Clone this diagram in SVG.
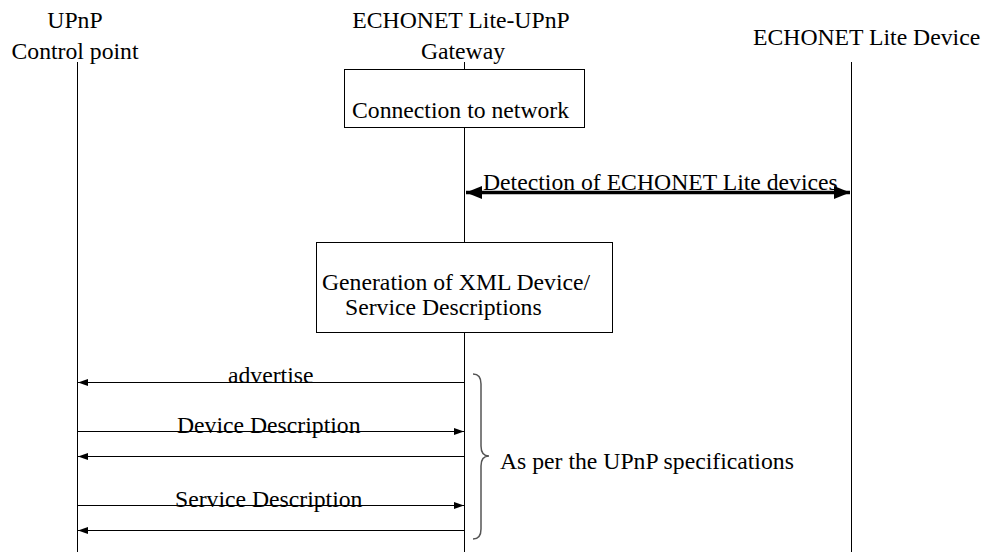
<svg xmlns="http://www.w3.org/2000/svg" width="987" height="552" viewBox="0 0 987 552">
<style>
text{font-family:"Times New Roman","Liberation Serif","DejaVu Serif",serif;font-size:23.7px;fill:#000}
.life{stroke:#000;stroke-width:1;fill:none}
.box{fill:#fff;stroke:#000;stroke-width:1}
.msg{stroke:#000;stroke-width:1;fill:none}
.mid{text-anchor:middle}
</style>
<defs>
<marker id="ah" markerUnits="userSpaceOnUse" markerWidth="11" markerHeight="8" refX="10" refY="3.5" orient="auto-start-reverse"><path d="M0,0 L10,3.5 L0,7 z" fill="#000"/></marker>
<marker id="ahb" markerUnits="userSpaceOnUse" markerWidth="17" markerHeight="14" refX="16" refY="6.5" orient="auto-start-reverse"><path d="M0,0 L16,6.5 L0,13 z" fill="#000"/></marker>
</defs>
<g id="lifelines">
<line class="life" x1="77.5" y1="62" x2="77.5" y2="552"/>
<line class="life" x1="464.5" y1="62" x2="464.5" y2="552"/>
<line class="life" x1="851.5" y1="62" x2="851.5" y2="552"/>
</g>
<g id="cp">
<text class="mid" x="75" y="28">UPnP</text>
<text class="mid" x="75" y="59">Control point</text>
</g>
<g id="gw">
<text class="mid" x="461" y="28">ECHONET Lite-UPnP</text>
<text class="mid" x="463" y="59">Gateway</text>
</g>
<g id="dev">
<text x="753" y="45">ECHONET Lite Device</text>
</g>
<g id="conn">
<rect class="box" x="344.5" y="69.5" width="240" height="58"/>
<text x="352" y="118">Connection to network</text>
</g>
<g id="gen">
<rect class="box" x="316.5" y="242.5" width="296" height="90"/>
<text x="322" y="290">Generation of XML Device/</text>
<text x="345" y="314.5">Service Descriptions</text>
</g>
<g id="connectors">
<line x1="466" y1="192.5" x2="850" y2="192.5" stroke="#000" stroke-width="3.5" marker-start="url(#ahb)" marker-end="url(#ahb)"/>
<line class="msg" x1="464" y1="382.5" x2="78" y2="382.5" marker-end="url(#ah)"/>
<line class="msg" x1="78" y1="431.5" x2="464" y2="431.5" marker-end="url(#ah)"/>
<line class="msg" x1="464" y1="456.5" x2="78" y2="456.5" marker-end="url(#ah)"/>
<line class="msg" x1="78" y1="505.5" x2="464" y2="505.5" marker-end="url(#ah)"/>
<line class="msg" x1="464" y1="530.5" x2="78" y2="530.5" marker-end="url(#ah)"/>
</g>
<g id="labels">
<text x="483" y="190">Detection of ECHONET Lite devices</text>
<text x="228" y="383">advertise</text>
<text x="177" y="433">Device Description</text>
<text x="175" y="507">Service Description</text>
</g>
<g id="brace">
<path d="M473,374 Q481,374 481,384 L481,446 Q481,456 489,456 Q481,456 481,466 L481,529 Q481,539 473,539" fill="none" stroke="#555" stroke-width="1.5"/>
<text x="500" y="469">As per the UPnP specifications</text>
</g>
</svg>
